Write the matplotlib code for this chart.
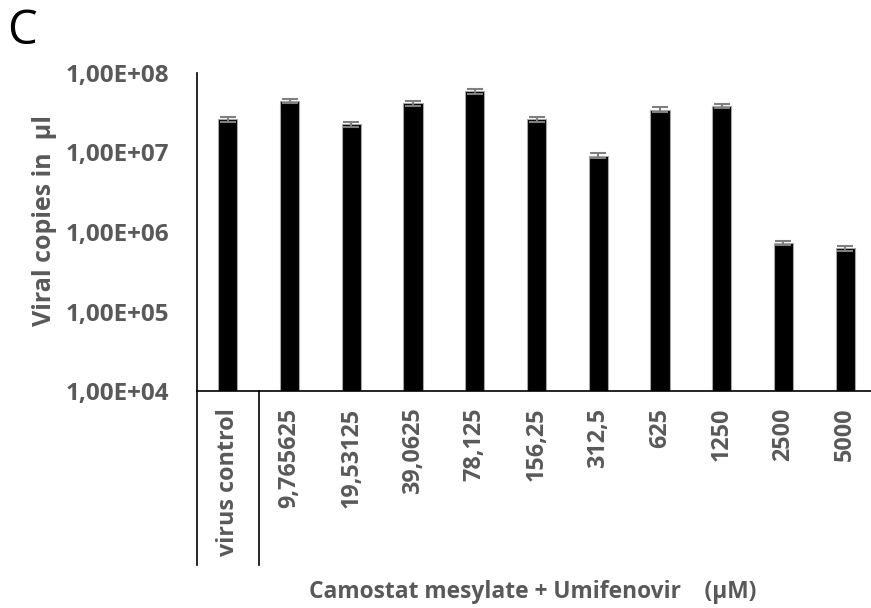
import matplotlib.pyplot as plt
import matplotlib.transforms as mtransforms
import numpy as np

# values (viral copies per ul)
labels = ['virus control', '9,765625', '19,53125', '39,0625', '78,125', '156,25',
          '312,5', '625', '1250', '2500', '5000']
copies = [2.62e7, 4.44e7, 2.26e7, 4.15e7, 5.88e7, 2.62e7,
          9.1e6, 3.46e7, 3.85e7, 7.3e5, 6.3e5]
errors = [1.8e6, 3.0e6, 1.6e6, 2.8e6, 4.0e6, 1.8e6,
          6.5e5, 2.4e6, 2.6e6, 5.0e4, 4.5e4]
yticks = [1e4, 1e5, 1e6, 1e7, 1e8]
ytick_labels = ['1,00E+04', '1,00E+05', '1,00E+06', '1,00E+07', '1,00E+08']

plt.rcParams['font.family'] = ['Open Sans', 'DejaVu Sans']
grey = '#595959'

fig = plt.figure(figsize=(8.71, 6.08), dpi=100)
W, H = 871, 608
# axes in pixel coords: left 197, right 876, top 73, bottom 391
ax = fig.add_axes([197 / W, (H - 391) / H, 679 / W, 318 / H])

x = np.arange(len(labels))
ax.bar(x, copies, width=0.31, color='black', edgecolor='#a6a6a6', linewidth=0.8,
       yerr=errors, ecolor='#7f7f7f', capsize=5.5,
       error_kw={'elinewidth': 1.5, 'capthick': 1.5})

ax.set_yscale('log')
ax.set_ylim(1e4, 1e8)
ax.set_xlim(-0.5, 10.5)
ax.set_yticks(yticks)
ax.set_yticklabels(ytick_labels)
ax.minorticks_off()
ax.tick_params(axis='y', length=0, pad=20, labelsize=17.5, labelcolor=grey)
for t in ax.get_yticklabels():
    t.set_fontweight('bold')

ax.set_xticks(x)
ax.set_xticklabels(labels, rotation=90, fontsize=16.8, fontweight='bold', color=grey)
ax.tick_params(axis='x', length=0, pad=12)

for s in ['top', 'right']:
    ax.spines[s].set_visible(False)
ax.spines['left'].set_linewidth(1.2)
ax.spines['bottom'].set_linewidth(1.2)

# category frame below the axis (Excel style)
trans = mtransforms.blended_transform_factory(ax.transData, ax.transAxes)
depth = -(565 - 391) / 318
for xv in [-0.5, 0.5]:
    ax.plot([xv, xv], [0, depth], color='black', lw=1.2, transform=trans, clip_on=False)

ax.set_ylabel('Viral copies in  µl', fontsize=18, fontweight='bold', color=grey)
ax.yaxis.set_label_coords((57 - 197) / 679, (391 - 220) / 318)

fig.text(533 / W, 1 - 592 / H, 'Camostat mesylate + Umifenovir    (µM)',
         ha='center', va='center', fontsize=16.4, fontweight='bold', color=grey)
fig.text(22 / W, 1 - 31 / H, 'C', ha='center', va='center', fontsize=34, color='black')

fig.savefig('out.png', dpi=100)
